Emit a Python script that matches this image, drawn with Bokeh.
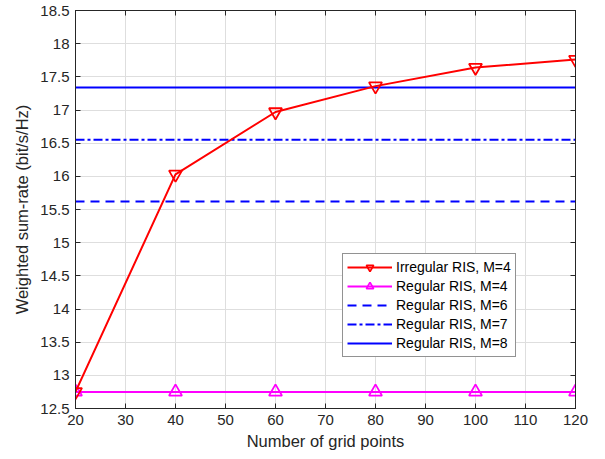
from bokeh.plotting import figure
from bokeh.models import Range1d, FixedTicker, Legend, LegendItem, LinearAxis
from bokeh.embed import file_html
from bokeh.resources import INLINE

grid_points = [20, 40, 60, 80, 100, 120]
irregular_m4 = [12.75, 16.03, 16.97, 17.36, 17.64, 17.76]
regular_m4 = [12.75, 12.75, 12.75, 12.75, 12.75, 12.75]
regular_m6 = 15.62
regular_m7 = 16.55
regular_m8 = 17.34
x_ticks = [20, 30, 40, 50, 60, 70, 80, 90, 100, 110, 120]
y_ticks = [12.5, 13, 13.5, 14, 14.5, 15, 15.5, 16, 16.5, 17, 17.5, 18, 18.5]

FONT = "Liberation Sans"
p = figure(width=589, height=453, output_backend="svg", toolbar_location=None,
           x_range=Range1d(20, 120), y_range=Range1d(12.5, 18.5),
           min_border_left=75, min_border_right=14, min_border_top=10, min_border_bottom=45)
p.background_fill_color = "white"
p.outline_line_color = "#262626"
p.outline_line_width = 1

for ax in (p.xaxis[0], p.yaxis[0]):
    ax.major_tick_in = 5
    ax.major_tick_out = 0
    ax.minor_tick_line_color = None
    ax.axis_line_color = "#262626"
    ax.major_tick_line_color = "#262626"
    ax.major_label_text_font = FONT
    ax.major_label_text_font_size = "15px"
    ax.major_label_text_color = "#262626"
    ax.axis_label_text_font = FONT
    ax.axis_label_text_font_size = "16.5px"
    ax.axis_label_text_font_style = "normal"
    ax.axis_label_text_color = "#262626"
p.xaxis.ticker = FixedTicker(ticks=x_ticks)
p.yaxis.ticker = FixedTicker(ticks=y_ticks)
p.xaxis.axis_label = "Number of grid points"
p.yaxis.axis_label = "Weighted sum-rate (bit/s/Hz)"
p.xaxis.major_label_standoff = 6
p.yaxis.major_label_standoff = 6
p.xaxis.axis_label_standoff = 4
p.yaxis.axis_label_standoff = 6
p.yaxis.formatter.use_scientific = False

# box ticks on top and right (no labels)
for loc, ticks in (("right", y_ticks), ("above", x_ticks)):
    ax = LinearAxis(ticker=FixedTicker(ticks=ticks))
    ax.major_tick_in = 5
    ax.major_tick_out = 0
    ax.minor_tick_line_color = None
    ax.axis_line_color = "#262626"
    ax.major_tick_line_color = "#262626"
    ax.major_label_text_font_size = "0px"
    ax.major_label_text_alpha = 0
    ax.major_label_standoff = 0
    p.add_layout(ax, loc)

p.xgrid.ticker = FixedTicker(ticks=x_ticks)
p.ygrid.ticker = FixedTicker(ticks=y_ticks)
p.grid.grid_line_color = "#dedede"
p.grid.grid_line_width = 1

x_lo, x_hi = grid_points[0], grid_points[-1]
r6 = p.line([x_lo, x_hi], [regular_m6, regular_m6], line_color="blue", line_width=2, line_dash="9 6")
r7 = p.line([x_lo, x_hi], [regular_m7, regular_m7], line_color="blue", line_width=2, line_dash="9 3 3 3")
r8 = p.line([x_lo, x_hi], [regular_m8, regular_m8], line_color="blue", line_width=2)

rm4l = p.line(grid_points, regular_m4, line_color="magenta", line_width=2)
rm4m = p.scatter(grid_points, regular_m4, marker="triangle", size=13, line_color="magenta",
                 fill_color=None, line_width=1.8)
irl = p.line(grid_points, irregular_m4, line_color="red", line_width=2)
irm = p.scatter(grid_points, irregular_m4, marker="inverted_triangle", size=13, line_color="red",
                fill_color=None, line_width=1.8)

legend = Legend(items=[
    LegendItem(label="Irregular RIS, M=4", renderers=[irl, irm]),
    LegendItem(label="Regular RIS, M=4", renderers=[rm4l, rm4m]),
    LegendItem(label="Regular RIS, M=6", renderers=[r6]),
    LegendItem(label="Regular RIS, M=7", renderers=[r7]),
    LegendItem(label="Regular RIS, M=8", renderers=[r8]),
], location=(267, 51))
legend.label_text_font = FONT
legend.label_text_font_size = "14px"
legend.label_text_color = "black"
legend.glyph_width = 45
legend.glyph_height = 18
legend.label_height = 18
legend.spacing = 1
legend.padding = 4
legend.margin = 0
legend.label_standoff = 4
legend.border_line_color = "#262626"
legend.border_line_width = 1
legend.background_fill_alpha = 1
p.add_layout(legend, "center")

open("out.html", "w").write(file_html(p, INLINE))
